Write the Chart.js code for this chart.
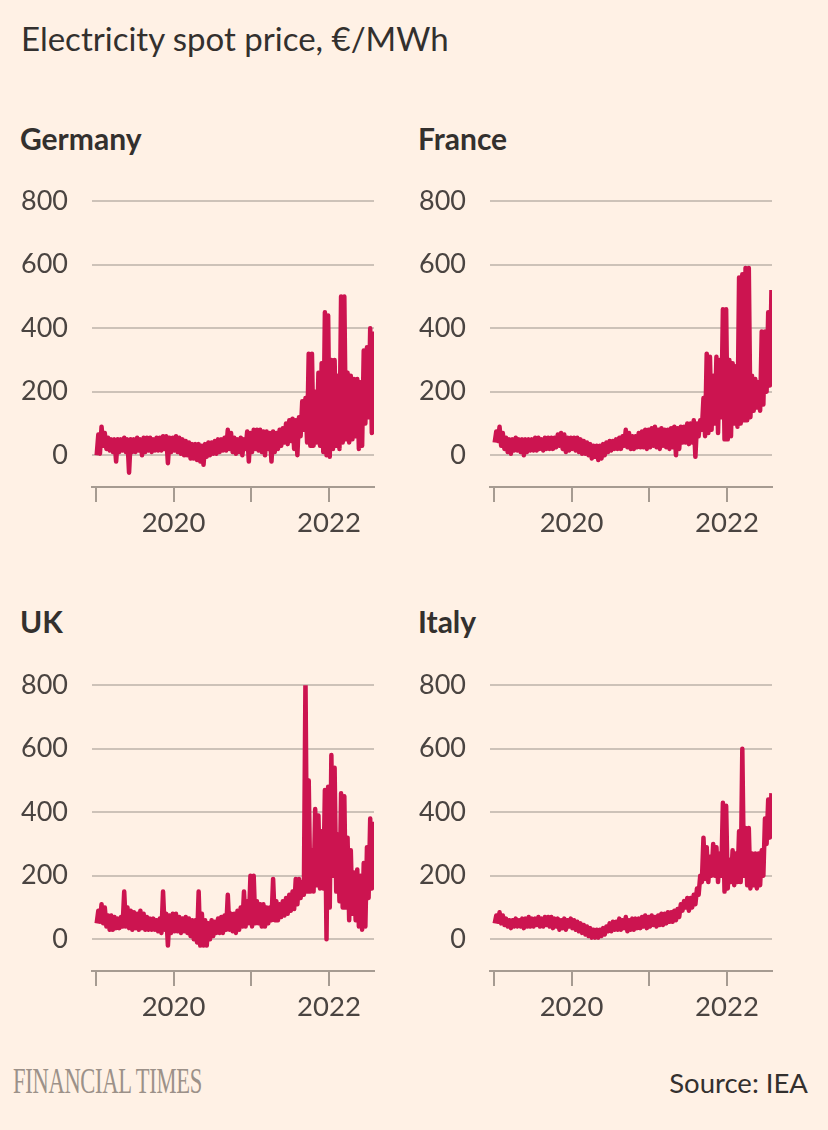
<!DOCTYPE html>
<html>
<head>
<meta charset="utf-8">
<script src="https://cdn.jsdelivr.net/npm/chart.js@4.4.1/dist/chart.umd.min.js"></script>
<style>
  body { margin: 0; background: #fff1e5; font-family: Lato, "Open Sans", sans-serif; color: #33302e; }
  #page { position: relative; width: 828px; height: 1130px; overflow: hidden; }
  .txt { position: absolute; white-space: nowrap; }
  .title { left: 21px; top: 18px; font-size: 33px; }
  .panel-title { font-size: 30px; font-weight: 700; }
  .box { position: absolute; width: 380px; height: 384px; }
  .ft { left: 13px; top: 1062px; font-family: "Liberation Serif", serif; font-size: 35px; color: #9c9189; transform-origin: left center; transform: scaleX(0.645); letter-spacing: -0.5px; }
  .source { right: 20px; top: 1066px; font-size: 27.5px; }
</style>
</head>
<body>
<div id="page">
  <div class="txt title">Electricity spot price, €/MWh</div>

  <div class="txt panel-title" style="left:20px; top:120px;">Germany</div>
  <div class="txt panel-title" style="left:418px; top:120px;">France</div>
  <div class="txt panel-title" style="left:20px; top:603px;">UK</div>
  <div class="txt panel-title" style="left:418px; top:603px;">Italy</div>

  <div class="box" style="left:10px; top:161px;"><canvas id="germanyChart"></canvas></div>
  <div class="box" style="left:408px; top:161px;"><canvas id="franceChart"></canvas></div>
  <div class="box" style="left:10px; top:645px;"><canvas id="ukChart"></canvas></div>
  <div class="box" style="left:408px; top:645px;"><canvas id="italyChart"></canvas></div>

  <div class="txt ft">FINANCIAL TIMES</div>
  <div class="txt source">Source: IEA</div>
</div>

<script>
// half-month low / high of the daily spot price, Jan 2019 .. Jul 2022 (86 halves)
var startYear = 2019;
var yearTicks = [2019, 2020, 2021, 2022];
var yTicks = [0, 200, 400, 600, 800];

var germanyLow = [
  0, 5, 30, 20, 15, 10, -20, 10, 15, 10, -55, 10,
  10, 15, 0, 10, 15, 10, 15, 15, 15, 20, -25, 10,
  15, 10, 5, 0, 0, -10, -10, -15, -20, -30, -5, 0,
  5, 5, 10, 15, 15, 20, 10, 5, 10, 0, 20, -20,
  10, 20, 15, 10, 0, 20, -20, 10, 20, 30, 40, 35,
  45, 20, 0, 60, 80, 40, 30, 30, 40, 30, 10, 0,
  -5, 20, 30, 20, 40, 50, 40, 50, 60, 20, 30, 100,
  120, 70
];
var germanyHigh = [
  65, 90, 70, 55, 50, 50, 50, 50, 55, 50, 50, 50,
  55, 50, 55, 55, 55, 50, 55, 55, 60, 60, 55, 55,
  60, 55, 50, 45, 40, 35, 35, 35, 30, 35, 40, 40,
  45, 50, 50, 55, 80, 70, 55, 50, 55, 50, 75, 70,
  80, 80, 80, 75, 75, 70, 75, 70, 80, 85, 100, 110,
  115, 110, 120, 170, 180, 320, 320, 200, 260, 290, 450, 440,
  300, 300, 250, 500, 500, 260, 250, 240, 240, 230, 330, 340,
  400, 390
];

var franceLow = [
  40, 45, 30, 20, 10, 5, 15, 15, 10, 0, 10, 15,
  15, 15, 20, 15, 20, 20, 20, 25, 30, 20, 10, 15,
  20, 15, 10, 5, 5, 0, -10, -5, -15, -10, 0, 10,
  15, 20, 20, 20, 30, 25, 20, 20, 25, 25, 25, 20,
  25, 30, 25, 20, 30, 25, 20, 25, 0, 20, 40, 40,
  35, 40, -5, 60, 80, 60, 70, 80, 100, 70, 120, 50,
  50, 60, 100, 90, 100, 110, 110, 120, 140, 150, 140, 160,
  200, 220
];
var franceHigh = [
  75, 90, 70, 55, 50, 50, 55, 50, 50, 50, 50, 50,
  55, 55, 50, 55, 55, 55, 55, 65, 70, 65, 55, 55,
  55, 55, 50, 45, 40, 35, 30, 30, 30, 35, 40, 45,
  45, 50, 55, 60, 80, 70, 60, 60, 70, 75, 80, 80,
  85, 90, 80, 85, 80, 80, 85, 90, 85, 90, 90, 100,
  100, 110, 100, 110, 180, 320, 310, 250, 310, 300, 460, 460,
  300, 290, 280, 560, 570, 590, 590, 250, 240, 230, 390, 390,
  450, 520
];

var ukLow = [
  50, 55, 50, 40, 30, 30, 35, 35, 40, 40, 35, 30,
  35, 30, 35, 30, 30, 30, 30, 25, 20, 30, -20, 20,
  25, 25, 20, 25, 20, 10, 0, -10, -20, -20, -20, 0,
  10, 20, 20, 20, 30, 30, 25, 20, 30, 40, 40, 50,
  40, 50, 50, 40, 40, 50, 60, 60, 60, 70, 75, 80,
  90, 95, 110, 130, 140, 150, 150, 150, 170, 160, 160, 0,
  100, 200, 150, 120, 100, 100, 60, 80, 60, 40, 30, 40,
  130, 160
];
var ukHigh = [
  90, 110, 100, 75, 75, 70, 65, 70, 150, 100, 90, 85,
  80, 90, 80, 70, 65, 65, 60, 65, 150, 80, 75, 80,
  80, 70, 65, 70, 65, 60, 60, 150, 80, 60, 50, 60,
  55, 65, 70, 75, 140, 80, 80, 90, 100, 150, 120, 200,
  200, 120, 110, 110, 100, 100, 190, 120, 110, 120, 130, 140,
  150, 190, 190, 180, 820, 500, 280, 410, 390, 340, 470, 480,
  580, 540, 330, 460, 450, 320, 280, 210, 220, 200, 240, 290,
  380, 370
];

var italyLow = [
  50, 55, 50, 45, 40, 35, 40, 40, 40, 35, 40, 40,
  40, 45, 40, 40, 45, 40, 35, 40, 30, 35, 30, 40,
  35, 30, 25, 20, 15, 10, 5, 5, 5, 10, 15, 25,
  25, 30, 30, 30, 35, 25, 30, 30, 35, 35, 40, 35,
  40, 45, 40, 45, 45, 50, 55, 55, 60, 70, 90, 100,
  90, 100, 110, 140, 180, 190, 180, 200, 200, 180, 200, 150,
  160, 180, 170, 180, 180, 200, 170, 160, 170, 160, 170, 200,
  300, 320
];
var italyHigh = [
  75, 85, 75, 65, 60, 60, 65, 60, 65, 65, 70, 65,
  65, 70, 65, 70, 70, 70, 65, 65, 60, 65, 60, 65,
  60, 55, 50, 45, 40, 35, 30, 30, 30, 35, 40, 50,
  55, 55, 65, 60, 70, 60, 65, 65, 65, 70, 75, 70,
  75, 70, 75, 80, 80, 85, 85, 90, 95, 110, 120, 130,
  130, 140, 160, 200, 320, 290, 260, 300, 290, 270, 430, 420,
  250, 280, 270, 340, 600, 350, 350, 270, 270, 270, 280, 380,
  440, 460
];

var lineColor = '#cc1450';
var gridColor = '#cdc2b8';
var axisColor = '#a69b91';
var labelColor = '#4a4441';

// zigzag low -> high inside each half-month so the thick line reads as the daily band
function buildPoints(lows, highs) {
  var pts = [];
  for (var h = 0; h < lows.length; h++) {
    pts.push({ x: startYear + (h + 0.25) / 24, y: lows[h] });
    pts.push({ x: startYear + (h + 0.75) / 24, y: highs[h] });
  }
  return pts;
}

function makeChart(id, lows, highs) {
  var ctx = document.getElementById(id).getContext('2d');
  return new Chart(ctx, {
    type: 'line',
    data: {
      datasets: [{
        data: buildPoints(lows, highs),
        borderColor: lineColor,
        borderWidth: 4.5,
        borderJoinStyle: 'round',
        pointRadius: 0,
        tension: 0,
        fill: false
      }]
    },
    options: {
      responsive: true,
      maintainAspectRatio: false,
      animation: false,
      layout: { padding: { top: 0, right: 16, bottom: 0, left: 0 } },
      plugins: { legend: { display: false }, tooltip: { enabled: false } },
      scales: {
        x: {
          type: 'linear',
          min: 2018.95,
          max: 2022.58,
          afterBuildTicks: function(s) { s.ticks = yearTicks.map(function(v) { return { value: v }; }); },
          afterFit: function(s) { s.height = 58; },
          grid: { drawOnChartArea: false, drawTicks: true, tickLength: 15, tickColor: axisColor, lineWidth: 2 },
          border: { display: true, color: axisColor, width: 2 },
          ticks: {
            padding: 5,
            maxRotation: 0,
            autoSkip: false,
            color: labelColor,
            font: { family: 'Lato', size: 27.5 },
            callback: function(v) { return v % 2 === 0 ? String(v) : ''; }
          }
        },
        y: {
          min: -100,
          max: 800,
          afterBuildTicks: function(s) { s.ticks = yTicks.map(function(v) { return { value: v }; }); },
          afterFit: function(s) { s.width = 82; },
          grid: { color: gridColor, lineWidth: 2, drawTicks: false },
          border: { display: false },
          ticks: {
            padding: 24,
            color: labelColor,
            font: { family: 'Lato', size: 27 }
          }
        }
      }
    }
  });
}

makeChart('germanyChart', germanyLow, germanyHigh);
makeChart('franceChart', franceLow, franceHigh);
makeChart('ukChart', ukLow, ukHigh);
makeChart('italyChart', italyLow, italyHigh);
</script>
</body>
</html>
